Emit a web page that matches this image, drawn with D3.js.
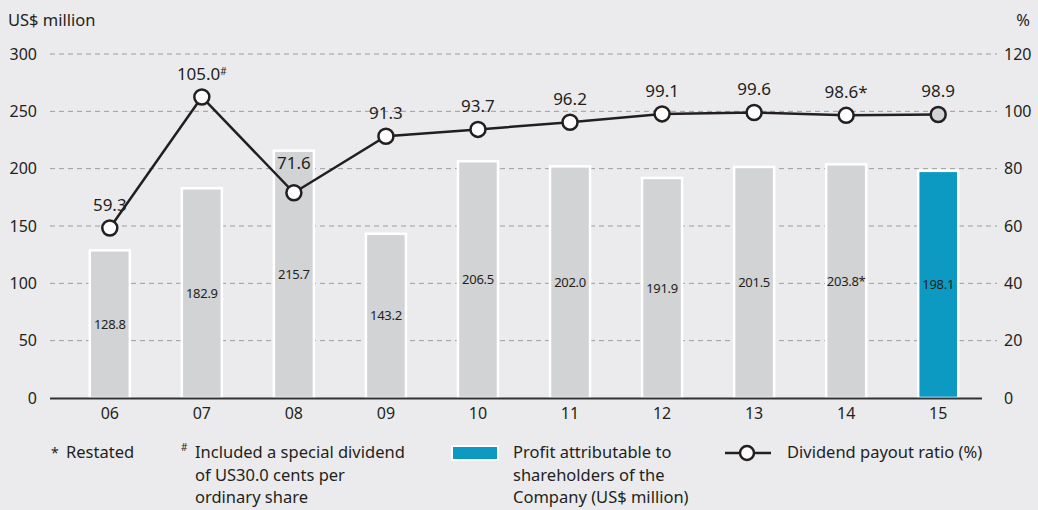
<!DOCTYPE html>
<html>
<head>
<meta charset="utf-8">
<script src="https://d3js.org/d3.v7.min.js"></script>
<style>
  body { margin: 0; background: #ebebed; }
  svg { display: block; font-family: "Noto Sans", sans-serif; }
</style>
</head>
<body>
<div id="chart"></div>
<script>
// data
var years = ["06", "07", "08", "09", "10", "11", "12", "13", "14", "15"];
var profit = [128.8, 182.9, 215.7, 143.2, 206.5, 202.0, 191.9, 201.5, 203.8, 198.1];
var profitMarks = ["", "", "", "", "", "", "", "", "*", ""];
var payout = [59.3, 105.0, 71.6, 91.3, 93.7, 96.2, 99.1, 99.6, 98.6, 98.9];
var payoutMarks = ["", "#", "", "", "", "", "", "", "*", ""];
var leftTicks = [0, 50, 100, 150, 200, 250, 300];
var rightTicks = [0, 20, 40, 60, 80, 100, 120];

var W = 1038, H = 510;
var svg = d3.select("#chart").append("svg").attr("width", W).attr("height", H);

var x = d3.scaleBand().domain(years).range([64, 984]).paddingInner(0.565).paddingOuter(0.28);
var y = d3.scaleLinear().domain([0, 300]).range([398, 54]);
var y2 = d3.scaleLinear().domain([0, 120]).range([398, 54]);

// gridlines
svg.append("g").selectAll("line")
  .data(leftTicks.filter(function (d) { return d > 0; }))
  .enter().append("line")
  .attr("x1", 50).attr("x2", 997)
  .attr("y1", function (d) { return y(d); }).attr("y2", function (d) { return y(d); })
  .attr("stroke", "#9d9d9f").attr("stroke-width", 1).attr("stroke-dasharray", "5,4");

// left axis labels
svg.append("g").selectAll("text").data(leftTicks).enter().append("text")
  .attr("x", 37).attr("y", function (d) { return y(d); }).attr("dy", "0.35em")
  .attr("text-anchor", "end").attr("font-size", 16).attr("fill", "#231f20")
  .text(function (d) { return d; });

// right axis labels
svg.append("g").selectAll("text").data(rightTicks).enter().append("text")
  .attr("x", 1004).attr("y", function (d) { return y2(d); }).attr("dy", "0.35em")
  .attr("text-anchor", "start").attr("font-size", 16).attr("fill", "#231f20")
  .text(function (d) { return d; });

svg.append("text").attr("x", 8).attr("y", 26).attr("font-size", 16.5).attr("fill", "#231f20").text("US$ million");
svg.append("text").attr("x", 1030).attr("y", 26).attr("text-anchor", "end").attr("font-size", 16.5).attr("fill", "#231f20").text("%");

// bars
svg.append("g").selectAll("rect").data(profit).enter().append("rect")
  .attr("x", function (d, i) { return x(years[i]); })
  .attr("y", function (d) { return y(d); })
  .attr("width", x.bandwidth())
  .attr("height", function (d) { return y(0) - y(d); })
  .attr("fill", function (d, i) { return i === years.length - 1 ? "#0c9ac3" : "#d2d3d5"; })
  .attr("stroke", "#ffffff").attr("stroke-width", 2.5);

// bar labels
svg.append("g").selectAll("text").data(profit).enter().append("text")
  .attr("x", function (d, i) { return x(years[i]) + x.bandwidth() / 2; })
  .attr("y", function (d) { return (y(d) + y(0)) / 2; })
  .attr("dy", "0.35em").attr("text-anchor", "middle")
  .attr("font-size", 13).attr("fill", "#231f20").attr("letter-spacing", -0.3)
  .text(function (d, i) { return d.toFixed(1) + profitMarks[i]; });

// x axis
svg.append("line").attr("x1", 50).attr("x2", 982).attr("y1", 398.5).attr("y2", 398.5)
  .attr("stroke", "#333333").attr("stroke-width", 2);
svg.append("g").selectAll("text").data(years).enter().append("text")
  .attr("x", function (d) { return x(d) + x.bandwidth() / 2; })
  .attr("y", 413).attr("dy", "0.35em").attr("text-anchor", "middle")
  .attr("font-size", 16).attr("fill", "#231f20")
  .text(function (d) { return d; });

// payout line
var cx = function (i) { return x(years[i]) + x.bandwidth() / 2; };
svg.append("path").datum(payout)
  .attr("fill", "none").attr("stroke", "#231f20").attr("stroke-width", 2.5)
  .attr("d", d3.line().x(function (d, i) { return cx(i); }).y(function (d) { return y2(d); }));

svg.append("g").selectAll("circle").data(payout).enter().append("circle")
  .attr("cx", function (d, i) { return cx(i); })
  .attr("cy", function (d) { return y2(d); })
  .attr("r", 7.5)
  .attr("fill", function (d, i) { return i === payout.length - 1 ? "#d2d3d5" : "#ffffff"; })
  .attr("stroke", "#231f20").attr("stroke-width", 2.5);

var lbl = svg.append("g").selectAll("text").data(payout).enter().append("text")
  .attr("x", function (d, i) { return cx(i); })
  .attr("y", function (d, i) { return y2(d) - (i === 2 ? 30 : 23); })
  .attr("dy", "0.35em").attr("text-anchor", "middle")
  .attr("font-size", 17).attr("fill", "#231f20");
lbl.append("tspan").text(function (d) { return d.toFixed(1); });
lbl.append("tspan")
  .attr("font-size", function (d, i) { return payoutMarks[i] === "#" ? 10 : 17; })
  .attr("dy", function (d, i) { return payoutMarks[i] === "#" ? "-0.5em" : 0; })
  .text(function (d, i) { return payoutMarks[i]; });

// legend
var lg = svg.append("g").attr("font-size", 16.5).attr("fill", "#231f20");
lg.append("text").attr("x", 51).attr("y", 458).attr("font-size", 14).text("*");
lg.append("text").attr("x", 66).attr("y", 458).text("Restated");
lg.append("text").attr("x", 181).attr("y", 451).attr("font-size", 10).text("#");
var note = ["Included a special dividend", "of US30.0 cents per", "ordinary share"];
lg.selectAll(".note").data(note).enter().append("text")
  .attr("x", 195).attr("y", function (d, i) { return 458 + i * 22.5; }).text(function (d) { return d; });

lg.append("rect").attr("x", 452).attr("y", 446).attr("width", 46).attr("height", 14)
  .attr("fill", "#0c9ac3").attr("stroke", "#ffffff").attr("stroke-width", 2);
var prof = ["Profit attributable to", "shareholders of the", "Company (US$ million)"];
lg.selectAll(".prof").data(prof).enter().append("text")
  .attr("x", 513).attr("y", function (d, i) { return 458 + i * 22.5; }).text(function (d) { return d; });

lg.append("line").attr("x1", 725).attr("x2", 771).attr("y1", 453).attr("y2", 453)
  .attr("stroke", "#231f20").attr("stroke-width", 2.5);
lg.append("circle").attr("cx", 747).attr("cy", 453).attr("r", 7)
  .attr("fill", "#ffffff").attr("stroke", "#231f20").attr("stroke-width", 2.5);
lg.append("text").attr("x", 787).attr("y", 458).text("Dividend payout ratio (%)");
</script>
</body>
</html>
